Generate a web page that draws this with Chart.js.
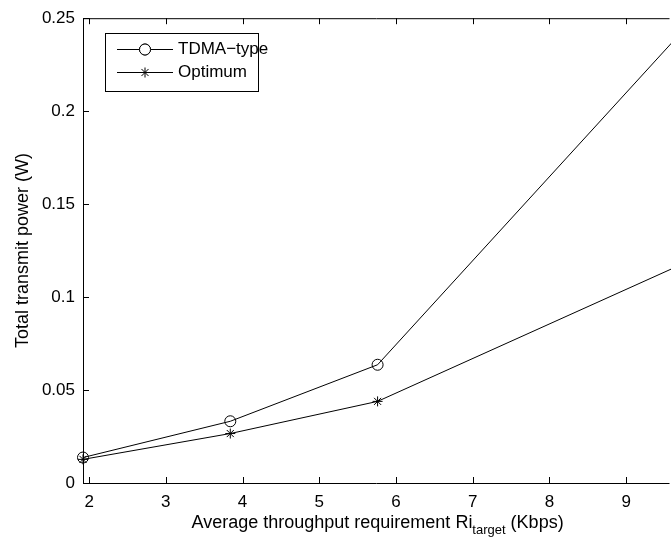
<!DOCTYPE html>
<html>
<head>
<meta charset="utf-8">
<script src="https://cdn.jsdelivr.net/npm/chart.js@4.4.0/dist/chart.umd.min.js"></script>
<style>
  html, body { margin: 0; padding: 0; background: #fff; }
  #wrap { width: 671px; height: 544px; }
</style>
</head>
<body>
<div id="wrap"><canvas id="myChart" width="671" height="544"></canvas></div>
<script>
// throughput requirement (Kbps)
const rates = [1.92, 3.84, 5.76, 9.6];
// total transmit power (W)
const tdmaPower = [0.0137, 0.0332, 0.0636, 0.237];
const optimumPower = [0.0127, 0.0266, 0.0439, 0.1153];

const xTicks = [2, 3, 4, 5, 6, 7, 8, 9];
const yTicks = [0, 0.05, 0.1, 0.15, 0.2, 0.25];

const FONT = "'Liberation Sans', Arial, Helvetica, sans-serif";

const toPoints = (xs, ys) => xs.map((x, i) => ({ x: x, y: ys[i] }));

// box, inward tick marks, axis titles and legend, drawn matlab style
const matlabFrame = {
    id: 'matlabFrame',
    afterDraw(chart) {
        const ctx = chart.ctx;
        const area = chart.chartArea;
        const xs = chart.scales.x;
        const ys = chart.scales.y;
        ctx.save();
        ctx.strokeStyle = '#000';
        ctx.lineWidth = 1;

        // axes box (right side runs off the canvas)
        ctx.beginPath();
        ctx.moveTo(area.right + 5, area.top + 0.5);
        ctx.lineTo(area.left + 0.5, area.top + 0.5);
        ctx.lineTo(area.left + 0.5, area.bottom + 0.5);
        ctx.lineTo(area.right + 5, area.bottom + 0.5);
        ctx.stroke();

        // tick marks pointing into the plot
        ctx.beginPath();
        xTicks.forEach(v => {
            const px = Math.round(xs.getPixelForValue(v)) + 0.5;
            ctx.moveTo(px, area.bottom);
            ctx.lineTo(px, area.bottom - 6);
            ctx.moveTo(px, area.top);
            ctx.lineTo(px, area.top + 6);
        });
        yTicks.forEach(v => {
            const py = Math.round(ys.getPixelForValue(v)) + 0.5;
            ctx.moveTo(area.left, py);
            ctx.lineTo(area.left + 6, py);
        });
        ctx.stroke();

        // y title
        ctx.fillStyle = '#000';
        ctx.font = '18px ' + FONT;
        ctx.textAlign = 'center';
        ctx.textBaseline = 'middle';
        ctx.save();
        ctx.translate(23, (area.top + area.bottom) / 2);
        ctx.rotate(-Math.PI / 2);
        ctx.fillText('Total transmit power (W)', 0, 0);
        ctx.restore();

        // x title with subscript, centred on the full axis span
        const cx = (xs.getPixelForValue(rates[0]) + xs.getPixelForValue(rates[rates.length - 1])) / 2;
        const partA = 'Average throughput requirement Ri';
        const partB = 'target';
        const partC = ' (Kbps)';
        ctx.textAlign = 'left';
        ctx.textBaseline = 'alphabetic';
        ctx.font = '18px ' + FONT;
        const wA = ctx.measureText(partA).width;
        const wC = ctx.measureText(partC).width;
        ctx.font = '13px ' + FONT;
        const wB = ctx.measureText(partB).width;
        let x0 = cx - (wA + wB + wC) / 2;
        const base = 528;
        ctx.font = '18px ' + FONT;
        ctx.fillText(partA, x0, base);
        ctx.font = '13px ' + FONT;
        ctx.fillText(partB, x0 + wA, base + 6);
        ctx.font = '18px ' + FONT;
        ctx.fillText(partC, x0 + wA + wB, base);

        // legend
        const lx = 105, ly = 33, lw = 153, lh = 58;
        ctx.fillStyle = '#fff';
        ctx.fillRect(lx, ly, lw, lh);
        ctx.strokeRect(lx + 0.5, ly + 0.5, lw, lh);
        const entries = [
            { label: 'TDMA\u2212type', ds: chart.data.datasets[0], y: 49.5 },
            { label: 'Optimum', ds: chart.data.datasets[1], y: 72.5 }
        ];
        entries.forEach(e => {
            ctx.beginPath();
            ctx.moveTo(117, e.y);
            ctx.lineTo(173, e.y);
            ctx.stroke();
            Chart.helpers.drawPoint(ctx, {
                pointStyle: e.ds.pointStyle,
                radius: e.ds.pointRadius,
                borderWidth: 1
            }, 145, e.y);
            if (e.ds.pointStyle === 'circle') {
                ctx.fillStyle = '#fff';
                ctx.beginPath();
                ctx.arc(145, e.y, e.ds.pointRadius, 0, Math.PI * 2);
                ctx.fill();
                ctx.stroke();
            }
            ctx.fillStyle = '#000';
            ctx.font = '17px ' + FONT;
            ctx.textBaseline = 'middle';
            ctx.fillText(e.label, 178, e.y);
        });
        ctx.restore();
    }
};

new Chart(document.getElementById('myChart').getContext('2d'), {
    type: 'scatter',
    data: {
        datasets: [
            {
                label: 'TDMA\u2212type',
                data: toPoints(rates, tdmaPower),
                showLine: true,
                borderColor: '#000',
                borderWidth: 1,
                backgroundColor: 'rgba(0,0,0,0)',
                pointStyle: 'circle',
                pointRadius: 5.5,
                pointBorderColor: '#000',
                pointBackgroundColor: 'rgba(0,0,0,0)',
                pointBorderWidth: 1,
                clip: false
            },
            {
                label: 'Optimum',
                data: toPoints(rates, optimumPower),
                showLine: true,
                borderColor: '#000',
                borderWidth: 1,
                backgroundColor: 'rgba(0,0,0,0)',
                pointStyle: 'star',
                pointRadius: 5,
                pointBorderColor: '#000',
                pointBorderWidth: 1,
                clip: false
            }
        ]
    },
    options: {
        responsive: false,
        animation: false,
        events: [],
        layout: { padding: { top: 15, right: 0, bottom: 0, left: 0 } },
        plugins: {
            legend: { display: false },
            tooltip: { enabled: false }
        },
        scales: {
            x: {
                type: 'linear',
                min: 1.92,
                max: 9.5,
                grid: { display: false, drawTicks: false },
                border: { display: false },
                afterBuildTicks: scale => { scale.ticks = xTicks.map(v => ({ value: v })); },
                afterFit: scale => { scale.height = 61; },
                ticks: {
                    color: '#000',
                    padding: 9,
                    maxRotation: 0,
                    autoSkip: false,
                    font: { family: FONT, size: 17 },
                    callback: v => String(v)
                }
            },
            y: {
                type: 'linear',
                min: 0,
                max: 0.25,
                grid: { display: false, drawTicks: false },
                border: { display: false },
                afterBuildTicks: scale => { scale.ticks = yTicks.map(v => ({ value: v })); },
                afterFit: scale => { scale.width = 83; },
                ticks: {
                    color: '#000',
                    padding: 8,
                    autoSkip: false,
                    font: { family: FONT, size: 17 },
                    callback: v => String(v)
                }
            }
        }
    },
    plugins: [matlabFrame]
});
</script>
</body>
</html>
